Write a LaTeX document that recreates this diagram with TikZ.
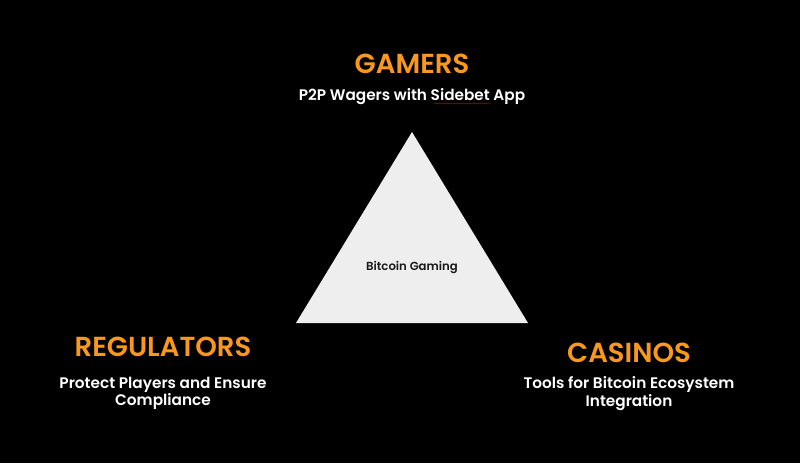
\documentclass[tikz,border=0pt]{standalone}
\usepackage{fontspec}
\setmainfont{Poppins}[BoldFont={Poppins SemiBold}]
\usetikzlibrary{decorations.pathmorphing}
\definecolor{accent}{HTML}{F8981D}
\definecolor{pyramid}{HTML}{EEEEEE}
\begin{document}
\begin{tikzpicture}[x=1pt,y=-1pt,
  heading/.style={text=accent, font=\fontsize{27.5}{30}\selectfont\bfseries, anchor=center, inner sep=0pt},
  caption/.style={text=white, font=\fontsize{15.3}{17.5}\selectfont\bfseries, align=center, anchor=center, inner sep=0pt}]
  % canvas
  \fill[black] (0,0) rectangle (800,463);
  \useasboundingbox (0,0) rectangle (800,463);

  % the pyramid
  \coordinate (top) at (412,132);
  \coordinate (bl) at (296,323);
  \coordinate (br) at (528,323);
  \fill[pyramid] (top) -- (bl) -- (br) -- cycle;
  \node[text=black!90, font=\fontsize{11.7}{13}\selectfont\bfseries] (core) at (412,267.5) {Bitcoin Gaming};

  % gamers
  \node[heading] (gamers) at (412,64) {GAMERS};
  \node[caption] (gamersdesc) at (412,96.5) {P2P Wagers with Sidebet App};
  \coordinate (squigA) at (434,103.5);
  \coordinate (squigB) at (490,103.5);
  \draw[red!75!black, line width=0.4pt, decorate,
        decoration={snake, amplitude=0.55pt, segment length=2.4pt}] (squigA) -- (squigB);

  % regulators
  \node[heading] (regs) at (163,347) {REGULATORS};
  \node[caption] (regsdesc) at (163,393.5) {Protect Players and Ensure\\Compliance};

  % casinos
  \node[heading] (casinos) at (629,353) {CASINOS};
  \node[caption] (casinosdesc) at (629,393.5) {Tools for Bitcoin Ecosystem\\Integration};
\end{tikzpicture}
\end{document}
